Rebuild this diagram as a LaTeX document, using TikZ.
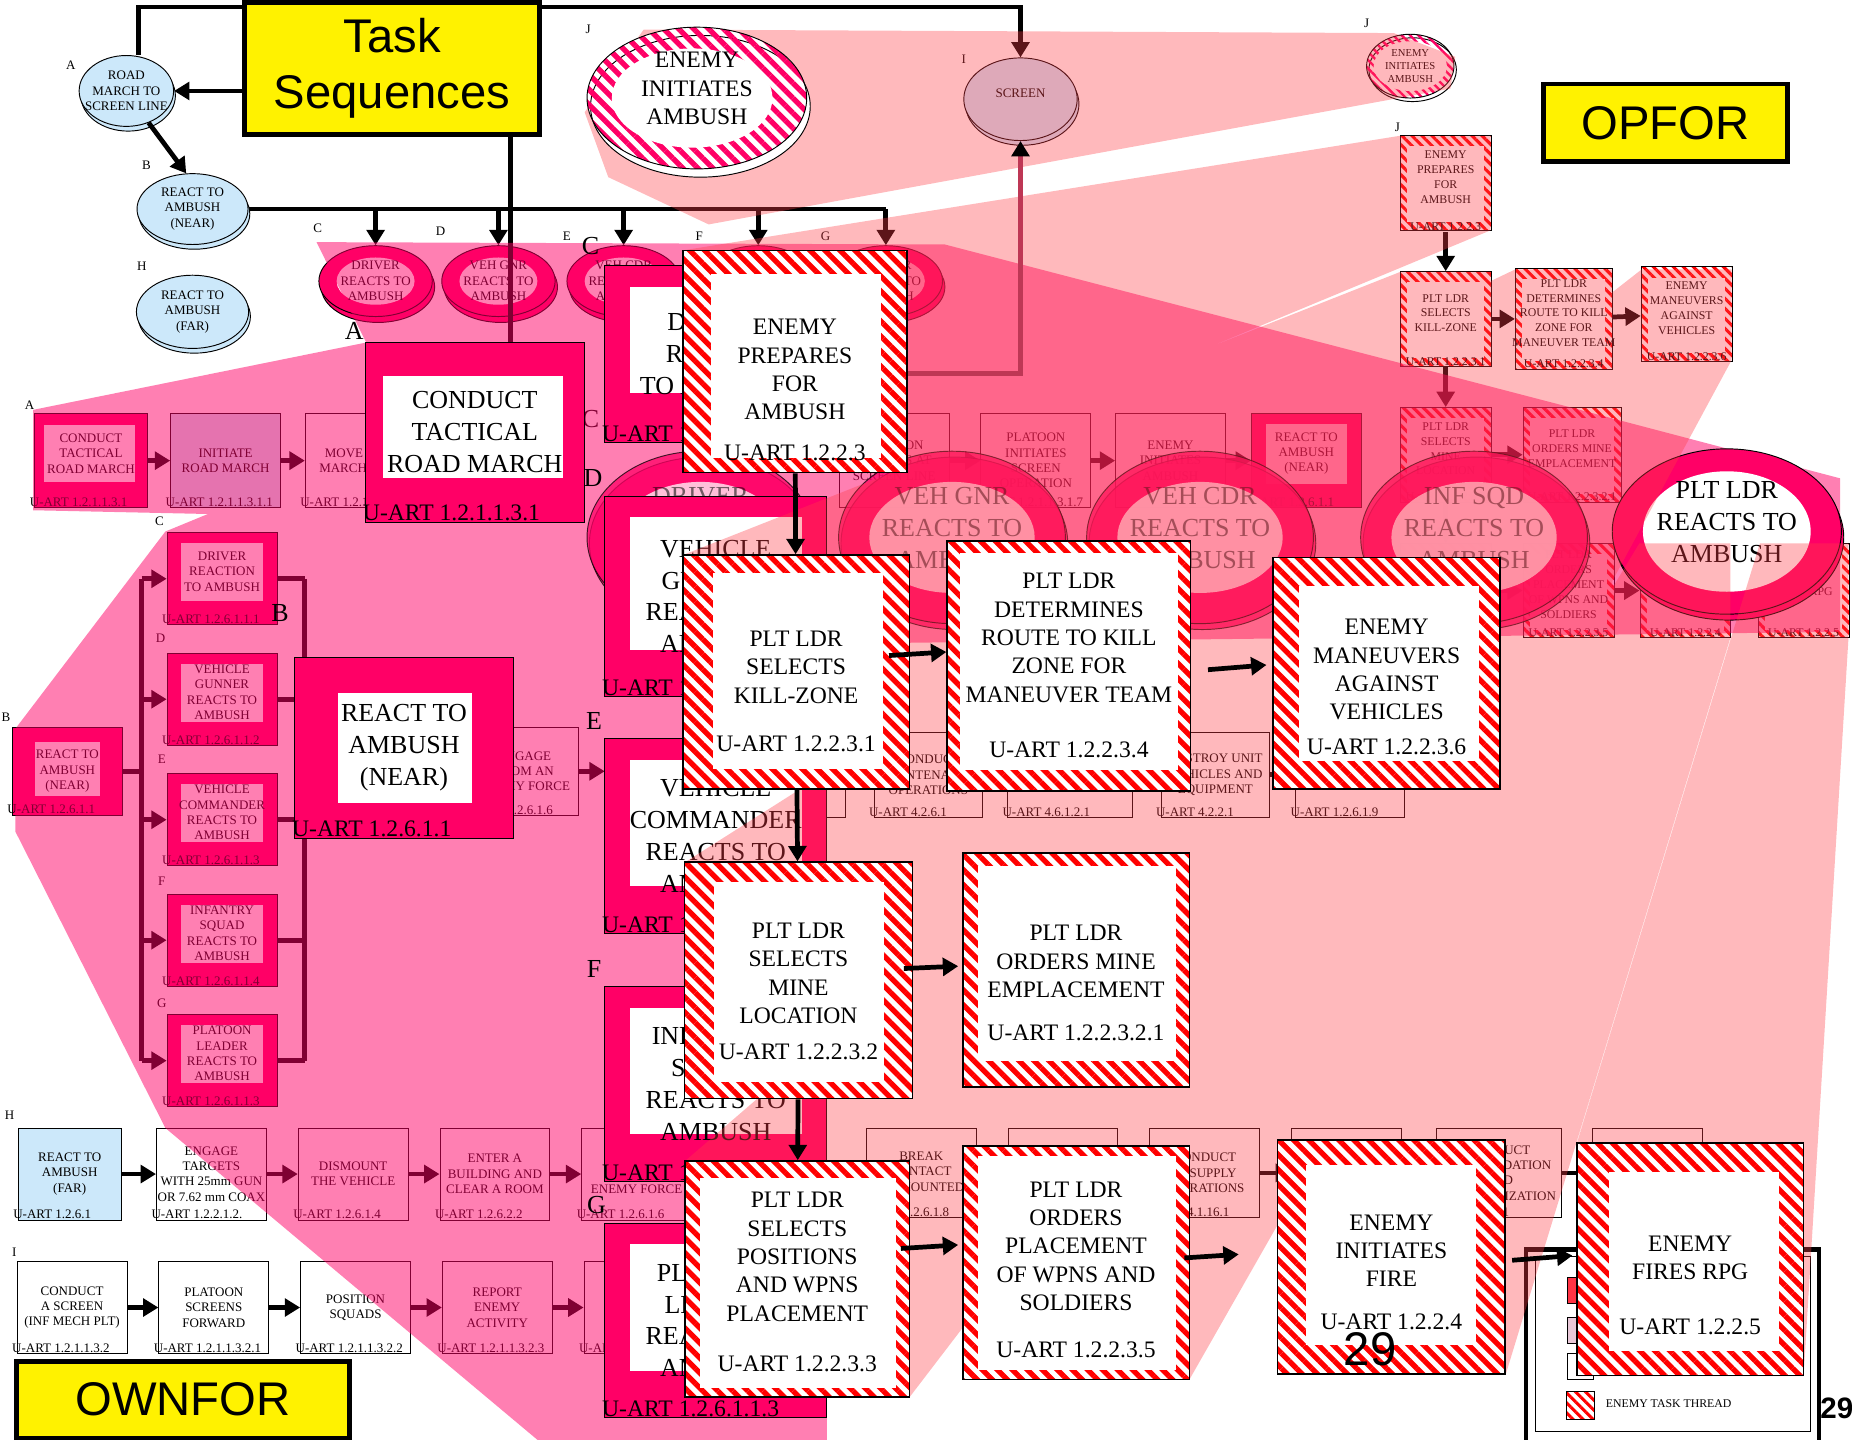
\documentclass[tikz,border=0pt]{standalone}
\usepackage{fontspec}
\setmainfont{Liberation Serif}
\newfontfamily\headfont{Liberation Sans}
\usetikzlibrary{shapes.geometric,arrows.meta,patterns.meta,shadows}

\definecolor{hotpink}{RGB}{255,0,102}
\definecolor{skyblue}{RGB}{204,232,250}
\definecolor{tintred}{RGB}{255,60,70}
\definecolor{linkred}{RGB}{190,55,85}
\definecolor{keyred}{RGB}{255,51,68}
\definecolor{keylilac}{RGB}{232,200,216}

\begin{document}
\begin{tikzpicture}[x=1pt,y=-1pt,node distance=120pt,>={Triangle[length=13pt,width=15pt]},
  sfont/.style={font=\fontsize{11}{13}\selectfont},
  bfont/.style={font=\fontsize{22}{27}\selectfont},
  efont/.style={font=\fontsize{20}{24}\selectfont},
  link/.style={line width=4pt},
  stext/.style={label={[sfont,align=center]center:#1}},
  ptext/.style={label={[sfont,align=center,yshift=6pt]center:#1}},
  setext/.style={label={[font=\fontsize{10}{12.5}\selectfont,align=center,yshift=5pt]center:#1}},
  btext/.style={label={[bfont,align=center,yshift=8pt]center:#1}},
  ftext/.style={label={[bfont,align=center,yshift=8pt,text opacity=.55]center:#1}},
  etext/.style 2 args={label={[efont,align=center,yshift=#2]center:#1}},
  uart/.style={label={[sfont,anchor=south west,inner sep=1pt,xshift=-5pt]south west:U-ART #1}},
  big uart/.style={label={[efont,anchor=south west,inner sep=1pt,xshift=-3pt]south west:U-ART #1}},
  e uart/.style 2 args={label={[efont,anchor=south,yshift=#2]south:U-ART #1}},
  s uart/.style={label={[font=\fontsize{10}{12}\selectfont,anchor=south,inner sep=1pt]south:U-ART #1}},
  white inset/.style n args={4}{path picture={\fill[white]
      ([shift={(#1,#4)}]path picture bounding box.south west) rectangle
      ([shift={(-#2,-#3)}]path picture bounding box.north east);}},
  head box/.style={draw,line width=4pt,fill=yellow,align=center,inner sep=0pt,
      font=\headfont\fontsize{40}{47}\selectfont},
  plain box/.style={rectangle,draw,thick,fill=white,align=center,sfont,inner sep=1pt,
      minimum width=93pt,minimum height=78pt},
  blue box/.style={plain box,fill=skyblue},
  pink box/.style={plain box,fill=hotpink,white inset={12pt}{12pt}{9pt}{20pt}},
  big pink/.style={rectangle,draw,thick,fill=hotpink,align=center,bfont,inner sep=0pt,
      minimum width=188pt,minimum height=165pt},
  task node/.style={ellipse,draw,thick,fill=skyblue,inner sep=0pt,
      copy shadow={shadow xshift=1.5pt,shadow yshift=-4pt,fill=skyblue,draw=black,thick}},
  ring/.style n args={4}{ellipse,draw,thick,fill=hotpink,inner sep=0pt,
      minimum width=#1,minimum height=#2,
      copy shadow={shadow xshift=2pt,shadow yshift=-5pt,fill=hotpink,draw=black,thick},
      path picture={\fill[white] (path picture bounding box.center) ellipse [x radius=#3,y radius=#4];}},
  stripe ring/.style={ellipse,draw,thick,inner sep=0pt,preaction={fill=white},
      pattern={Lines[angle=-45,distance=9pt,line width=4.5pt]},pattern color=hotpink},
  enemy/.style={rectangle,draw,line width=1.5pt,inner sep=0pt,preaction={fill=white},
      pattern={Lines[angle=-45,distance=9pt,line width=4.5pt]},pattern color=red,
      minimum width=192pt,minimum height=198pt},
  small enemy/.style={rectangle,draw,thick,inner sep=0pt,preaction={fill=white},
      pattern={Lines[angle=-45,distance=6pt,line width=2.6pt]},pattern color=red,
      minimum width=77pt,minimum height=80pt,white inset={6pt}{6pt}{9pt}{7pt}}]

\useasboundingbox (0,0) rectangle (1568,1219);

% task sequences
\node[head box,minimum width=250pt,minimum height=112pt] (task) at (332,58) {Task\\Sequences};
\node[task node,minimum width=80pt,minimum height=60pt,stext={ROAD\\MARCH TO\\SCREEN LINE}] (rm) at (107,77) {};
\node[task node,minimum width=94pt,minimum height=60pt,stext={REACT TO\\AMBUSH\\(NEAR)}] (ran) at (163,177) {};
\node[task node,minimum width=95pt,minimum height=62pt,stext={REACT TO\\AMBUSH\\(FAR)}] (raf) at (163,264) {};
\node[task node,minimum width=96pt,minimum height=70pt,label={[sfont,yshift=5pt]center:SCREEN}] (scr) at (864,84) {};
\foreach \n/\x/\t in {dr/318/DRIVER,vg/422/VEH GNR,vc/528/VEH CDR,is/642/INF SQD,pl/750/PLT LDR}
  \node[ring={96pt}{60pt}{33pt}{20pt},stext={\t\\REACTS TO\\AMBUSH}] (\n) at (\x,238) {};
\node[stripe ring,minimum width=74pt,minimum height=54pt,
  pattern={Lines[angle=-45,distance=5pt,line width=2pt]},
  copy shadow={shadow xshift=2pt,shadow yshift=-3pt,fill=white,draw=black,thick},
  path picture={\fill[white] (path picture bounding box.center) ellipse [x radius=31pt,y radius=21pt];},
  label={[font=\fontsize{9}{11}\selectfont,align=center]center:ENEMY\\INITIATES\\AMBUSH}] (jsm) at (1194,56) {};

\coordinate (ctrtop) at (432,290);
\draw[link] ([yshift=-6pt]task.north west) -| ([xshift=10pt]rm.north);
\draw[link,->] ([yshift=-6pt]task.north east) -| (scr.north);
\draw[link,->] (task.west |- rm.east) -- (rm.east);
\draw[link,->] (rm.-55) -- (ran.100);
\draw[link] (ran.east) -- (ran.east -| pl.north);
\foreach \n in {dr,vg,vc,is,pl} \draw[link,->] (ran.east -| \n.north) -- (\n.north);
\draw[link] ([xshift=100pt]task.south) -- (ctrtop);

\foreach \t/\x/\y [count=\i] in {A/60/55,B/124/140,H/120/225,C/269/193,D/373/196,E/480/200,F/592/200,
    G/699/200,J/498/25,I/816/50,J/1157/20,J/1183/108,A/25/343,C/135/441,D/136/540,E/137/643,
    F/137/746,G/137/849,B/5/607,H/8/944,I/12/1060}
  \node[sfont] (tag\i) at (\x,\y) {\t};
\foreach \t/\x/\y [count=\i] in {C/500/355,E/917/372,F/1142/372,G/1358/372}
  \node[bfont] (fade\i) at (\x,\y) {\t};

% road march thread
\node[pink box,minimum width=95pt,minimum height=80pt,white inset={8pt}{10pt}{10pt}{22pt},uart=1.2.1.1.3.1,
  ptext={CONDUCT\\TACTICAL\\ROAD MARCH}] (a1) at (77,390) {};
\node[blue box,minimum height=80pt,node distance=114pt,right of=a1,uart=1.2.1.1.3.1.1] (a2) {INITIATE\\ROAD MARCH};
\node[plain box,minimum height=80pt,node distance=114pt,right of=a2,uart=1.2.1.1.3.1.2] (a3) {MOVE AS A\\MARCH UNIT};
\path[link,->] (a1) edge (a2) (a2) edge (a3);

% react to ambush (near)
\node[pink box,minimum height=74pt,white inset={19pt}{19pt}{12pt}{16pt},uart=1.2.6.1.1,
  stext={REACT TO\\AMBUSH\\(NEAR)}] (bn) at (57,653) {};
\node[pink box,uart=1.2.6.1.1.1,ptext={DRIVER\\REACTION\\TO AMBUSH}] (c1) at (188,490) {};
\node[pink box,node distance=102pt,below of=c1,uart=1.2.6.1.1.2,ptext={VEHICLE\\GUNNER\\REACTS TO\\AMBUSH}] (c2) {};
\node[pink box,node distance=102pt,below of=c2,uart=1.2.6.1.1.3,ptext={VEHICLE\\COMMANDER\\REACTS TO\\AMBUSH}] (c3) {};
\node[pink box,node distance=102pt,below of=c3,uart=1.2.6.1.1.4,ptext={INFANTRY\\SQUAD\\REACTS TO\\AMBUSH}] (c4) {};
\node[pink box,node distance=102pt,below of=c4,uart=1.2.6.1.1.3,ptext={PLATOON\\LEADER\\REACTS TO\\AMBUSH}] (c5) {};
\coordinate (lbus) at (120,653);
\coordinate (rbus) at (258,653);
\draw[link] (bn.east) -- (lbus);
\draw[link] (lbus |- c1.west) -- (lbus |- c5.west);
\draw[link] (rbus |- c1.east) -- (rbus |- c5.east);
\foreach \n in {c1,c2,c3,c4,c5} {
  \draw[link,->] (lbus |- \n.west) -- (\n.west);
  \draw[link] (\n.east) -- (rbus |- \n.east);
}
\node[plain box,minimum width=92pt,minimum height=75pt,uart=1.2.6.1.6] (ef) at (444,653) {ENGAGE\\FROM AN\\ENEMY FORCE};
\coordinate (k3in) at (512,653);
\draw[link,->] (ef.east) -- (k3in);

% react to ambush (far) and screen threads
\node[blue box,minimum width=87pt,uart=1.2.6.1] (h1) at (59,994) {REACT TO\\AMBUSH\\(FAR)};
\node[plain box,right of=h1,uart=1.2.2.1.2.] (h2) {ENGAGE\\TARGETS\\WITH 25mm GUN\\OR 7.62 mm COAX};
\node[plain box,right of=h2,uart=1.2.6.1.4] (h3) {DISMOUNT\\THE VEHICLE};
\node[plain box,right of=h3,uart=1.2.6.2.2] (h4) {ENTER A\\BUILDING AND\\CLEAR A ROOM};
\node[plain box,right of=h4,uart=1.2.6.1.6] (h5) {ENGAGE\\FROM AN\\ENEMY FORCE};
\path[link,->] (h1) edge (h2) (h2) edge (h3) (h3) edge (h4) (h4) edge (h5);

\node[plain box,uart=1.2.1.1.3.2] (i1) at (61,1107) {CONDUCT\\A SCREEN\\(INF MECH PLT)};
\node[plain box,right of=i1,uart=1.2.1.1.3.2.1] (i2) {PLATOON\\SCREENS\\FORWARD};
\node[plain box,right of=i2,uart=1.2.1.1.3.2.2] (i3) {POSITION\\SQUADS};
\node[plain box,right of=i3,uart=1.2.1.1.3.2.3] (i4) {REPORT\\ENEMY\\ACTIVITY};
\node[plain box,right of=i4,uart=1.2.1.1.3.2.4] (i5) {};
\path[link,->] (i1) edge (i2) (i2) edge (i3) (i3) edge (i4) (i4) edge (i5);

% threads behind the zoom
\node[plain box,minimum height=80pt] (r1) at (757,390) {PLATOON\\ARRIVES AT\\SCREEN LINE};
\node[plain box,minimum height=80pt,right of=r1,uart=1.2.1.1.3.1.7] (r2) {PLATOON\\INITIATES\\SCREEN\\OPERATION};
\node[plain box,minimum height=80pt,node distance=114pt,right of=r2] (r3) {ENEMY\\INITIATES\\AMBUSH};
\node[pink box,minimum height=80pt,node distance=115pt,right of=r3,uart=1.2.6.1.1,ptext={REACT TO\\AMBUSH\\(NEAR)}] (r4) {};
\path[link,->] (r1) edge (r2) (r2) edge (r3) (r3) edge (r4);

\node[plain box,minimum width=100pt,minimum height=72pt] (t0) at (666,656) {};
\node[plain box,minimum width=92pt,minimum height=72pt,right of=t0,uart=4.2.6.1] (t1) {CONDUCT\\MAINTENANCE\\OPERATIONS};
\node[plain box,minimum width=106pt,minimum height=72pt,right of=t1,uart=4.6.1.2.1] (t2) {};
\node[plain box,minimum width=92pt,minimum height=72pt,node distance=123pt,right of=t2,uart=4.2.2.1] (t3) {DESTROY UNIT\\VEHICLES AND\\EQUIPMENT};
\node[plain box,minimum width=92pt,minimum height=72pt,node distance=114pt,right of=t3,uart=1.2.6.1.9] (t4) {};
\path[link,->] (t0) edge (t1) (t1) edge (t2) (t2) edge (t3) (t3) edge (t4);

\node[plain box,minimum height=76pt,uart=1.2.6.1.8] (hr1) at (780,993) {BREAK\\CONTACT\\(DISMOUNTED)};
\node[plain box,minimum height=76pt,right of=hr1] (hr2) {};
\node[plain box,minimum height=76pt,right of=hr2,uart=4.1.16.1] (hr3) {CONDUCT\\RESUPPLY\\OPERATIONS};
\node[plain box,minimum height=76pt,right of=hr3] (hr4) {};
\node[plain box,minimum width=106pt,minimum height=76pt,node distance=129pt,right of=hr4,uart=4.1.2.1] (hr5) {CONDUCT\\CONSOLIDATION\\AND\\REORGANIZATION};
\node[plain box,minimum height=76pt,node distance=126pt,right of=hr5] (hr6) {};
\path[link,->] (hr1) edge (hr2) (hr2) edge (hr3) (hr3) edge (hr4) (hr4) edge (hr5) (hr5) edge (hr6);

% enemy thread, small
\node[small enemy,s uart=1.2.2.3,setext={ENEMY\\PREPARES\\FOR\\AMBUSH}] (s1) at (1224,155) {};
\node[small enemy,s uart=1.2.2.3.1,setext={PLT LDR\\SELECTS\\KILL-ZONE}] (s2) at (1224,270) {};
\node[small enemy,minimum width=82pt,minimum height=85pt,s uart=1.2.2.3.4,
  setext={PLT LDR\\DETERMINES\\ROUTE TO KILL\\ZONE FOR\\MANEUVER TEAM}] (s3) at (1324,270) {};
\node[small enemy,s uart=1.2.2.3.6,setext={ENEMY\\MANEUVERS\\AGAINST\\VEHICLES}] (s4) at (1428,266) {};
\node[small enemy,s uart=1.2.2.3.2,setext={PLT LDR\\SELECTS\\MINE\\LOCATION}] (s5) at (1224,385) {};
\node[small enemy,minimum width=83pt,s uart=1.2.2.3.2.1,setext={PLT LDR\\ORDERS MINE\\EMPLACEMENT}] (s6) at (1331,385) {};
\node[small enemy,s uart=1.2.2.3.3,setext={PLT LDR\\SELECTS\\POSITIONS\\AND WPNS\\PLACEMENT}] (s7) at (1224,500) {};
\node[small enemy,s uart=1.2.2.3.5,setext={PLT LDR\\ORDERS\\PLACEMENT\\OF WPNS AND\\SOLDIERS}] (s8) at (1328,500) {};
\node[small enemy,s uart=1.2.2.4,setext={ENEMY\\INITIATES\\FIRE}] (s9) at (1427,500) {};
\node[small enemy,s uart=1.2.2.5,setext={ENEMY\\FIRES RPG}] (s10) at (1527,500) {};
\path[link,->] (s1) edge (s2) (s2) edge (s3) (s3) edge (s4) (s2) edge (s5) (s5) edge (s6)
  (s5) edge (s7) (s7) edge (s8) (s8) edge (s9) (s9) edge (s10);

% legend
\draw[line width=4pt] (1292,1058) rectangle (1540,1223);
\draw[thick] (1300,1064) rectangle (1533,1212);
\node[draw,fill=keyred,minimum size=22pt,inner sep=0pt] (key1) at (1338,1092) {};
\node[draw,fill=keylilac,minimum size=22pt,inner sep=0pt] (key2) at (1338,1126) {};
\node[draw,fill=white,minimum size=22pt,inner sep=0pt] (key3) at (1338,1157) {};
\node[draw,thick,minimum size=24pt,inner sep=0pt,preaction={fill=white},
  pattern={Lines[angle=-45,distance=6pt,line width=2.6pt]},pattern color=red] (key4) at (1338,1190) {};
\node[font=\fontsize{10}{12}\selectfont,anchor=west] (keyt) at (1356,1188) {ENEMY TASK THREAD};

% zoom trace, own force
\fill[hotpink,fill opacity=.5]
  (28,347) -- (310,290) -- (495,290) -- (495,442) -- (28,432) -- cycle
  (268,205) -- (800,207) -- (1330,345) -- (1558,405) -- (1558,535) -- (700,545) -- (495,442) -- (310,290) -- cycle
  (140,450) -- (310,380) -- (495,442) -- (700,545) -- (700,1219) -- (455,1219) -- (140,955) -- (13,704) -- (13,617) -- cycle;

\foreach \n/\x/\t in {bdr/593/DRIVER,bvg/806/VEH GNR,bvc/1016/VEH CDR,bis/1248/INF SQD}
  \node[ring={192pt}{146pt}{70pt}{47pt},opacity=.75,ftext={\t\\REACTS TO\\AMBUSH}] (\n) at (\x,455) {};
\node[ring={194pt}{140pt}{71pt}{51pt},btext={PLT LDR\\REACTS TO\\AMBUSH}] (bpl) at (1462,450) {};

\node[big pink,minimum width=185pt,minimum height=152pt,white inset={15pt}{18pt}{28pt}{37pt},big uart=1.2.1.1.3.1] (ctr) at (402,366) {CONDUCT\\TACTICAL\\ROAD MARCH};
\node[big pink,minimum width=185pt,minimum height=153pt,white inset={37pt}{35pt}{30pt}{30pt},big uart=1.2.6.1.1] (rtn) at (342,633) {REACT TO\\AMBUSH\\(NEAR)};
\node[big pink,minimum height=150pt,white inset={21pt}{21pt}{18pt}{42pt},big uart=1.2.6.1.1.1] (k1) at (606,300) {DRIVER\\REACTS\\TO AMBUSH};
\node[big pink,minimum height=170pt,white inset={21pt}{21pt}{18pt}{40pt},big uart=1.2.6.1.1.2] (k2) at (606,505) {VEHICLE\\GUNNER\\REACTS TO\\AMBUSH};
\node[big pink,white inset={21pt}{21pt}{18pt}{40pt},big uart=1.2.6.1.1.3] (k3) at (606,708) {VEHICLE\\COMMANDER\\REACTS TO\\AMBUSH};
\node[big pink,white inset={21pt}{21pt}{18pt}{40pt},big uart=1.2.6.1.1.4] (k4) at (606,918) {INFANTRY\\SQUAD\\REACTS TO\\AMBUSH};
\node[big pink,white inset={21pt}{21pt}{18pt}{40pt},big uart=1.2.6.1.1.3] (k5) at (606,1118) {PLATOON\\LEADER\\REACTS TO\\AMBUSH};

% zoom trace, enemy
\fill[tintred,fill opacity=.36]
  (495,95) -- (545,25) -- (1180,28) -- (1232,48) -- (1228,75) -- (600,190) -- (515,150) -- cycle
  (578,212) -- (1185,115) -- (1262,115) -- (1262,195) -- (768,400) -- (578,400) -- cycle
  (578,470) -- (1186,230) -- (1262,230) -- (1262,310) -- (770,668) -- (578,668) -- cycle
  (802,458) -- (1283,228) -- (1365,228) -- (1365,313) -- (1008,670) -- (802,670) -- cycle
  (1078,472) -- (1390,228) -- (1466,228) -- (1466,305) -- (1270,668) -- (1078,668) -- cycle
  (580,730) -- (1186,345) -- (1262,345) -- (1262,425) -- (773,930) -- (580,930) -- cycle
  (815,722) -- (1290,345) -- (1373,345) -- (1373,425) -- (1007,920) -- (815,920) -- cycle
  (580,983) -- (1186,460) -- (1262,460) -- (1262,540) -- (770,1183) -- (580,1183) -- cycle
  (815,970) -- (1290,460) -- (1365,460) -- (1365,540) -- (1007,1168) -- (815,1168) -- cycle
  (1082,965) -- (1388,460) -- (1465,460) -- (1465,540) -- (1275,1163) -- (1082,1163) -- cycle
  (1335,968) -- (1490,460) -- (1565,460) -- (1565,540) -- (1527,1165) -- (1335,1165) -- cycle;

% enemy thread, large
\node[stripe ring,minimum width=186pt,minimum height=120pt,
  copy shadow={shadow xshift=3pt,shadow yshift=-7pt,fill=white,draw=black,thick},
  path picture={\fill[white] ([xshift=-4pt]path picture bounding box.center) ellipse [x radius=68pt,y radius=42pt];},
  label={[efont,align=center,yshift=8pt]center:ENEMY\\INITIATES\\AMBUSH}] (jbig) at (590,83) {};
\node[enemy,minimum width=190pt,minimum height=188pt,white inset={24pt}{22pt}{20pt}{12pt},
  etext={ENEMY\\PREPARES\\FOR\\AMBUSH}{-7pt},e uart={1.2.2.3}{7pt}] (epf) at (673,306) {};
\node[enemy,white inset={26pt}{22pt}{15pt}{17pt},
  etext={PLT LDR\\SELECTS\\KILL-ZONE}{4pt},e uart={1.2.2.3.1}{29pt}] (ekz) at (674,569) {};
\node[enemy,minimum width=206pt,minimum height=212pt,white inset={11pt}{11pt}{10pt}{18pt},
  etext={PLT LDR\\DETERMINES\\ROUTE TO KILL\\ZONE FOR\\MANEUVER TEAM}{24pt},e uart={1.2.2.3.4}{26pt}] (erk) at (905,564) {};
\node[enemy,minimum height=196pt,white inset={22pt}{18pt}{24pt}{24pt},
  etext={ENEMY\\MANEUVERS\\AGAINST\\VEHICLES}{3pt},e uart={1.2.2.3.6}{26pt}] (emv) at (1174,570) {};
\node[enemy,minimum width=193pt,minimum height=200pt,white inset={25pt}{24pt}{17pt}{14pt},
  etext={PLT LDR\\SELECTS\\MINE\\LOCATION}{6pt},e uart={1.2.2.3.2}{30pt}] (eml) at (676,830) {};
\node[enemy,white inset={13pt}{11pt}{11pt}{22pt},
  etext={PLT LDR\\ORDERS MINE\\EMPLACEMENT}{7pt},e uart={1.2.2.3.2.1}{36pt}] (eom) at (911,821) {};
\node[enemy,minimum width=190pt,minimum height=200pt,white inset={13pt}{11pt}{14pt}{8pt},
  etext={PLT LDR\\SELECTS\\POSITIONS\\AND WPNS\\PLACEMENT}{19pt},e uart={1.2.2.3.3}{19pt}] (epw) at (675,1083) {};
\node[enemy,white inset={13pt}{11pt}{9pt}{8pt},
  etext={PLT LDR\\ORDERS\\PLACEMENT\\OF WPNS AND\\SOLDIERS}{14pt},e uart={1.2.2.3.5}{16pt}] (eop) at (911,1069) {};
\node[enemy,minimum width=193pt,white inset={24pt}{25pt}{21pt}{24pt},
  etext={ENEMY\\INITIATES\\FIRE}{5pt},e uart={1.2.2.4}{34pt}] (efi) at (1178,1064) {};
\node[enemy,minimum height=197pt,white inset={27pt}{21pt}{25pt}{21pt},
  etext={ENEMY\\FIRES RPG}{1pt},e uart={1.2.2.5}{32pt}] (erp) at (1431,1066) {};

\draw[link,draw=linkred,-{Triangle[length=13pt,width=15pt,color=black]}] ([yshift=-10pt]epf.east) -| (scr.south);
\draw[link,->] (epf) -- (ekz);
\draw[link,->] ([shift={(-18pt,14pt)}]ekz.east) -- ([yshift=12pt]erk.west);
\draw[link,->] ([shift={(14pt,-3pt)}]erk.east) -- ([shift={(-5pt,7pt)}]emv.west);
\draw[link,->] (ekz) -- (eml);
\draw[link,->] ([shift={(-8pt,10pt)}]eml.east) -- ([shift={(-3pt,3pt)}]eom.west);
\draw[link,->] (eml) -- (epw);
\draw[link,->] ([shift={(-8pt,26pt)}]epw.east) -- ([shift={(-3pt,15pt)}]eop.west);
\draw[link,->] ([shift={(-5pt,4pt)}]eop.east) -- ([shift={(-32pt,2pt)}]efi.west);
\draw[link,->] ([shift={(5pt,-3pt)}]efi.east) -- ([shift={(-3pt,3pt)}]erp.west);

% labels on top
\node[head box,minimum width=207pt,minimum height=66pt] (opfor) at (1410,104) {OPFOR};
\node[head box,minimum width=282pt,minimum height=65pt] (ownfor) at (155,1185) {OWNFOR};
\foreach \t/\x/\y in {A/300/280,B/237/519,C/500/208,D/502/405,E/503/610,F/503/820,G/505/1020}
  \node[bfont] (big\t) at (\x,\y) {\t};
\node[font=\headfont\fontsize{40}{40}\selectfont,inner sep=0pt] (pg) at (1160,1142) {29};
\node[font=\headfont\bfseries\fontsize{25}{25}\selectfont,anchor=west,inner sep=0pt] (pgr) at (1541,1192) {29};
\end{tikzpicture}
\end{document}
